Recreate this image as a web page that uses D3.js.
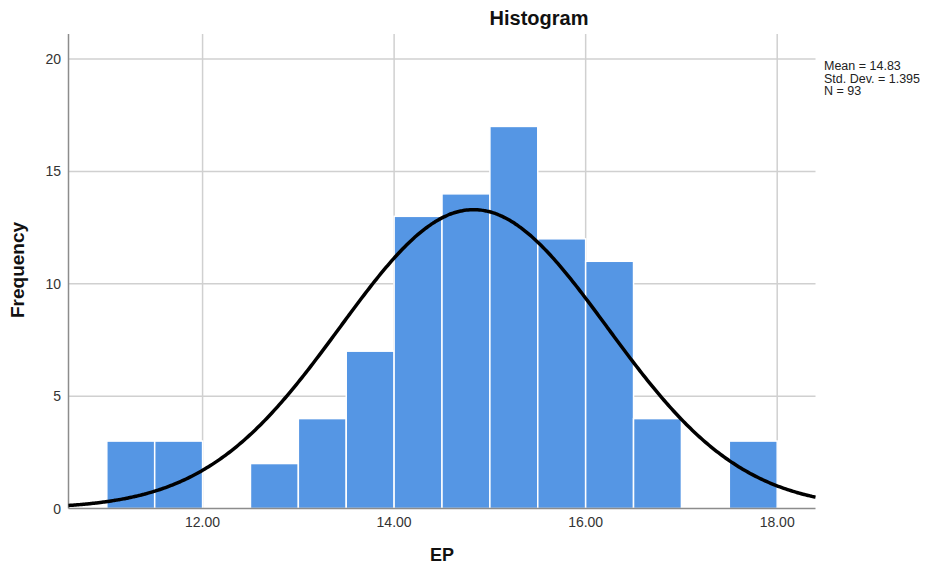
<!DOCTYPE html>
<html><head><meta charset="utf-8">
<script src="https://cdn.jsdelivr.net/npm/d3@7"></script>
<style>body{margin:0;background:#fff}svg{display:block;font-family:Arial,"Liberation Sans",sans-serif}</style>
</head><body><svg id="c" width="932" height="567"></svg>
<script>
const binStarts = [11.0,11.5,12.0,12.5,13.0,13.5,14.0,14.5,15.0,15.5,16.0,16.5,17.0,17.5];
const binWidth = 0.5;
const counts = [3,3,0,2,4,7,13,14,17,12,11,4,0,3];
const xTicks = [12,14,16,18];
const yTicks = [0,5,10,15,20];
const stats = {mean:14.83, sd:1.395, n:93};
const statLabels = ["Mean = 14.83","Std. Dev. = 1.395","N = 93"];

const svg = d3.select("#c");
const L=68.5, R=815.5, T=34, B=508.5;
const x = d3.scaleLinear().domain([10.6,18.4]).range([L,R]);
const y = d3.scaleLinear().domain([0,20]).range([B,59]);

// grid
svg.append("g").selectAll("line").data(yTicks.slice(1)).join("line")
  .attr("x1",L).attr("x2",R).attr("y1",d=>y(d)).attr("y2",d=>y(d))
  .attr("stroke","#d0d0d0").attr("stroke-width",1.5);
svg.append("g").selectAll("line").data(xTicks).join("line")
  .attr("x1",d=>x(d)).attr("x2",d=>x(d)).attr("y1",T).attr("y2",B)
  .attr("stroke","#d0d0d0").attr("stroke-width",1.5);

// bars
svg.append("g").selectAll("rect").data(binStarts.map((s,i)=>({s,c:counts[i]})).filter(d=>d.c>0)).join("rect")
  .attr("x",d=>x(d.s)).attr("width",d=>x(d.s+binWidth)-x(d.s))
  .attr("y",d=>y(d.c)).attr("height",d=>y(0)-y(d.c))
  .attr("fill","#5596e4").attr("stroke","#fff").attr("stroke-width",1.5);

// axes lines
svg.append("line").attr("x1",L).attr("x2",L).attr("y1",T).attr("y2",B).attr("stroke","#8c8c8c").attr("stroke-width",1.5);
svg.append("line").attr("x1",L).attr("x2",R).attr("y1",B).attr("y2",B).attr("stroke","#8c8c8c").attr("stroke-width",1.5);

// normal curve
const pts = d3.range(0,401).map(i=>10.6+i*(18.4-10.6)/400);
const pdf = v => stats.n*binWidth/(stats.sd*Math.sqrt(2*Math.PI))*Math.exp(-0.5*Math.pow((v-stats.mean)/stats.sd,2));
svg.append("path").datum(pts)
  .attr("d",d3.line().x(d=>x(d)).y(d=>y(pdf(d))).curve(d3.curveBasis))
  .attr("fill","none").attr("stroke","#000").attr("stroke-width",3.5);

// tick labels
svg.append("g").selectAll("text").data(yTicks).join("text")
  .attr("x",61).attr("y",d=>y(d)+5).attr("text-anchor","end")
  .attr("font-size",14).attr("fill","#333").text(d=>d);
svg.append("g").selectAll("text").data(xTicks).join("text")
  .attr("x",d=>x(d)).attr("y",527).attr("text-anchor","middle")
  .attr("font-size",14).attr("fill","#333").text(d=>d.toFixed(2));

// titles
svg.append("text").attr("x",539).attr("y",25).attr("text-anchor","middle")
  .attr("font-size",20).attr("font-weight","bold").attr("fill","#111").text("Histogram");
svg.append("text").attr("x",442).attr("y",561).attr("text-anchor","middle")
  .attr("font-size",18).attr("font-weight","bold").attr("fill","#111").text("EP");
svg.append("text").attr("transform","translate(24,270) rotate(-90)").attr("text-anchor","middle")
  .attr("font-size",19).attr("font-weight","bold").attr("fill","#111").text("Frequency");

// stats
svg.append("g").selectAll("text").data(statLabels).join("text")
  .attr("x",824).attr("y",(d,i)=>70+i*12.5).attr("font-size",12.5).attr("fill","#222").text(d=>d);
</script></body></html>
